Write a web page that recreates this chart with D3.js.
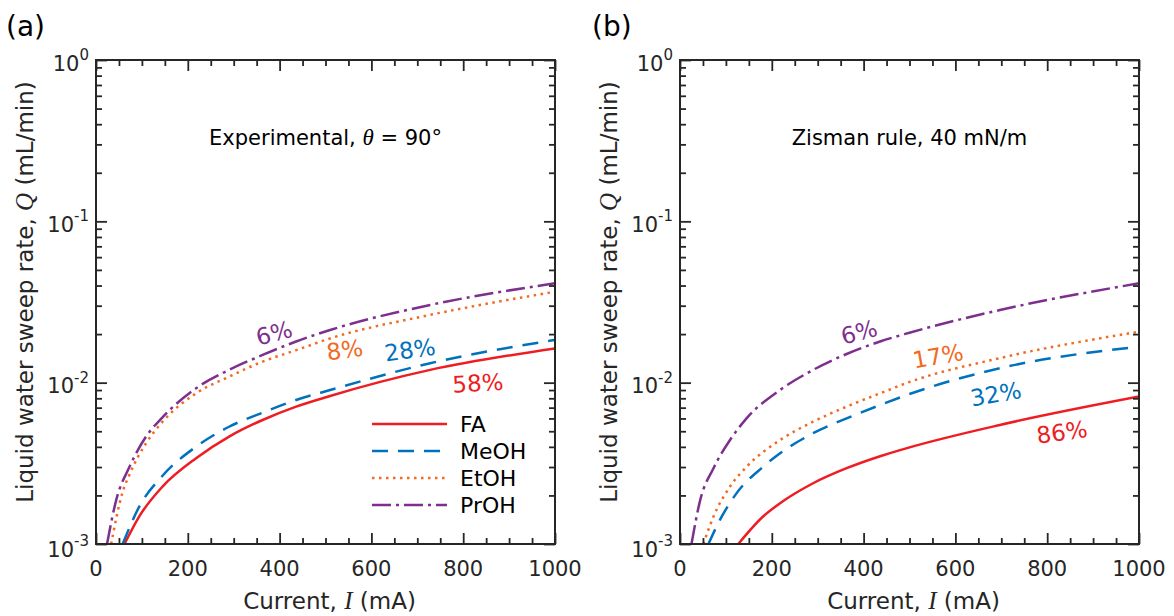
<!DOCTYPE html>
<html><head><meta charset="utf-8">
<script src="https://cdn.jsdelivr.net/npm/d3@7"></script>
<style>body{margin:0;background:#fff}</style>
</head><body>
<svg id="chart" width="1174" height="616"></svg>
<script>
// ---------- DATA ----------
const seriesNames = ["FA", "MeOH", "EtOH", "PrOH"];
const xTicks = [0, 200, 400, 600, 800, 1000];
const xMinorTicks = d3.range(0, 1001, 50);
const yExponents = [-3, -2, -1, 0];

// Panel (a): Experimental, theta = 90 deg
const aFA_I   = [62, 94, 145, 218, 290, 363, 436, 510, 728, 1000];
const aFA_Q   = [0.001, 0.00148, 0.00227, 0.0034, 0.00463, 0.00587, 0.0071, 0.00827, 0.012, 0.0163];
const aMeOH_I = [58, 94, 145, 218, 290, 363, 436, 510, 728, 1000];
const aMeOH_Q = [0.001, 0.0017, 0.00265, 0.00401, 0.00533, 0.00652, 0.00781, 0.009, 0.0132, 0.0184];
const aEtOH_I = [33, 58, 73, 109, 145, 218, 290, 363, 436, 510, 728, 1000];
const aEtOH_Q = [0.001, 0.0021, 0.0027, 0.00421, 0.00573, 0.00859, 0.0109, 0.0135, 0.0159, 0.0188, 0.0263, 0.0366];
const aPrOH_I = [24, 44, 73, 109, 145, 218, 290, 363, 436, 510, 728, 1000];
const aPrOH_Q = [0.001, 0.00187, 0.00301, 0.00463, 0.0061, 0.00923, 0.012, 0.01485, 0.018, 0.0212, 0.0303, 0.0413];
const aLabels = ["58%", "28%", "8%", "6%"];
const aLabel_I = [832, 684, 542, 388];
const aLabel_Q = [0.00995, 0.016, 0.016, 0.0203];

// Panel (b): Zisman rule, 40 mN/m
const bFA_I   = [127, 181, 218, 290, 363, 436, 500, 697, 1000];
const bFA_Q   = [0.001, 0.00148, 0.00179, 0.00238, 0.00295, 0.0035, 0.00397, 0.00547, 0.0082];
const bMeOH_I = [62, 87, 123, 181, 218, 290, 363, 436, 500, 697, 1000];
const bMeOH_Q = [0.001, 0.00141, 0.00206, 0.00301, 0.00365, 0.00486, 0.00601, 0.00727, 0.0085, 0.0123, 0.0167];
const bEtOH_I = [51, 73, 109, 145, 218, 290, 363, 436, 500, 697, 1000];
const bEtOH_Q = [0.001, 0.00148, 0.00227, 0.00301, 0.00441, 0.00573, 0.0071, 0.00859, 0.0101, 0.0142, 0.0207];
const bPrOH_I = [25, 44, 73, 109, 145, 218, 290, 363, 436, 500, 697, 1000];
const bPrOH_Q = [0.001, 0.00187, 0.00295, 0.00441, 0.00601, 0.00901, 0.012, 0.01506, 0.018, 0.0204, 0.0282, 0.0413];
const bLabels = ["86%", "32%", "17%", "6%"];
const bLabel_I = [832, 688, 562, 390];
const bLabel_Q = [0.00494, 0.00851, 0.01465, 0.0206];

// ---------- STYLE ----------
const TXT = "#262626";
const FONT = "'DejaVu Sans', Verdana, sans-serif";
const SERIF = "'Liberation Serif', 'Times New Roman', serif";
const styles = {
  FA:   {color: "#EE1D23", dash: null},
  MeOH: {color: "#0072BD", dash: "16,10"},
  EtOH: {color: "#F26A22", dash: "2.5,4.5"},
  PrOH: {color: "#7E2F8E", dash: "19,5,3,5"}
};

const svg = d3.select("#chart");
svg.append("rect").attr("width", 1174).attr("height", 616).attr("fill", "#fff");

function zipSeries(I, Q) { return I.map((v, i) => ({I: v, Q: Q[i]})); }

function drawPanel(cfg) {
  const top = 60, bottom = 544;
  const x = d3.scaleLinear().domain([0, 1000]).range([cfg.left, cfg.right]);
  const y = d3.scaleLog().domain([1e-3, 1]).range([bottom, top]);
  const g = svg.append("g");

  const clipId = "clip" + cfg.id;
  svg.append("clipPath").attr("id", clipId).append("rect")
    .attr("x", cfg.left).attr("y", top).attr("width", cfg.right - cfg.left).attr("height", bottom - top);

  // curves
  const line = d3.line().x(d => x(d.I)).y(d => y(d.Q)).curve(d3.curveMonotoneX);
  const cg = g.append("g").attr("clip-path", `url(#${clipId})`);
  seriesNames.forEach((name, k) => {
    const st = styles[name];
    cg.append("path").datum(cfg.series[k])
      .attr("d", line).attr("fill", "none")
      .attr("stroke", st.color).attr("stroke-width", 2.5)
      .attr("stroke-dasharray", st.dash);
  });

  // axes ticks (inward, mirrored)
  const yMinor = [];
  for (let e = -3; e < 0; e++) for (let m = 2; m <= 9; m++) yMinor.push(m * Math.pow(10, e));
  const yMajor = yExponents.map(e => Math.pow(10, e));

  const mk = (gen, tv, size, tr) => {
    const a = g.append("g").attr("transform", tr)
      .call(gen.tickValues(tv).tickSize(size).tickFormat(""));
    a.select(".domain").remove();
    a.selectAll(".tick line").attr("stroke", TXT).attr("stroke-width", 1.8);
  };
  mk(d3.axisBottom(x), xTicks, -11, `translate(0,${bottom})`);
  mk(d3.axisBottom(x), xMinorTicks.filter(v => v % 200 !== 0), -6, `translate(0,${bottom})`);
  mk(d3.axisTop(x), xTicks, -11, `translate(0,${top})`);
  mk(d3.axisTop(x), xMinorTicks.filter(v => v % 200 !== 0), -6, `translate(0,${top})`);
  mk(d3.axisLeft(y), yMajor, -11, `translate(${cfg.left},0)`);
  mk(d3.axisLeft(y), yMinor, -6, `translate(${cfg.left},0)`);
  mk(d3.axisRight(y), yMajor, -11, `translate(${cfg.right},0)`);
  mk(d3.axisRight(y), yMinor, -6, `translate(${cfg.right},0)`);

  // box
  g.append("rect").attr("x", cfg.left).attr("y", top)
    .attr("width", cfg.right - cfg.left).attr("height", bottom - top)
    .attr("fill", "none").attr("stroke", TXT).attr("stroke-width", 2);

  // x tick labels
  g.selectAll(".xl").data(xTicks).enter().append("text")
    .attr("x", d => x(d)).attr("y", 576)
    .attr("text-anchor", "middle").attr("font-family", FONT).attr("font-size", 21)
    .attr("fill", TXT).text(d => d);

  // y tick labels
  yExponents.forEach(e => {
    const yy = y(Math.pow(10, e)) + (e === -3 ? 13 : 10.5);
    const t = g.append("text").attr("x", cfg.left - 7).attr("y", yy)
      .attr("text-anchor", "end").attr("font-family", FONT).attr("fill", TXT);
    t.append("tspan").attr("font-size", 21).text("10");
    t.append("tspan").attr("font-size", 15).attr("dy", -10.6).text(e === 0 ? "0" : "-" + (-e));
  });

  // x title
  const xt = g.append("text").attr("x", (cfg.left + cfg.right) / 2 + 4).attr("y", 609)
    .attr("text-anchor", "middle").attr("font-family", FONT).attr("font-size", 23).attr("fill", TXT);
  xt.append("tspan").text("Current, ");
  xt.append("tspan").attr("font-family", SERIF).attr("font-style", "italic").attr("font-size", 25).text("I");
  xt.append("tspan").text(" (mA)");

  // y title
  const yt = g.append("text")
    .attr("transform", `translate(${cfg.left - 63},${(top + bottom) / 2 - 10}) rotate(-90)`)
    .attr("text-anchor", "middle").attr("font-family", FONT).attr("font-size", 23).attr("fill", TXT);
  yt.append("tspan").text("Liquid water sweep rate, ");
  yt.append("tspan").attr("font-family", SERIF).attr("font-style", "italic").attr("font-size", 25).text("Q");
  yt.append("tspan").text(" (mL/min)");

  // panel letter
  g.append("text").attr("x", cfg.letterX).attr("y", 36)
    .attr("font-family", FONT).attr("font-size", 28).attr("fill", "#000").text(cfg.letter);

  // annotation
  const an = g.append("text").attr("x", (cfg.left + cfg.right) / 2).attr("y", 145)
    .attr("text-anchor", "middle").attr("font-family", FONT).attr("font-size", 21).attr("fill", "#000");
  cfg.annot(an);

  // percentage labels
  cfg.labels.forEach((lab, k) => {
    const px = x(cfg.labelI[k]), py = y(cfg.labelQ[k]);
    g.append("text").attr("transform", `translate(${px},${py}) rotate(${cfg.rot[k]})`)
      .attr("text-anchor", "middle").attr("dy", "0.36em")
      .attr("font-family", FONT).attr("font-size", 23)
      .attr("fill", styles[seriesNames[k]].color).text(lab);
  });

  return {x, y, g};
}

const pa = drawPanel({
  id: "a", left: 96, right: 555, letter: "(a)", letterX: 6,
  series: [zipSeries(aFA_I, aFA_Q), zipSeries(aMeOH_I, aMeOH_Q), zipSeries(aEtOH_I, aEtOH_Q), zipSeries(aPrOH_I, aPrOH_Q)],
  labels: aLabels, labelI: aLabel_I, labelQ: aLabel_Q, rot: [-3, -8, -8, -15],
  annot: t => {
    t.append("tspan").text("Experimental, ");
    t.append("tspan").attr("font-family", SERIF).attr("font-style", "italic").attr("font-size", 23).text("θ");
    t.append("tspan").text(" = 90°");
  }
});
const pb = drawPanel({
  id: "b", left: 680, right: 1139, letter: "(b)", letterX: 592,
  series: [zipSeries(bFA_I, bFA_Q), zipSeries(bMeOH_I, bMeOH_Q), zipSeries(bEtOH_I, bEtOH_Q), zipSeries(bPrOH_I, bPrOH_Q)],
  labels: bLabels, labelI: bLabel_I, labelQ: bLabel_Q, rot: [-8, -10, -10, -15],
  annot: t => { t.text("Zisman rule, 40 mN/m"); }
});

// legend in panel (a)
const lg = pa.g.append("g");
seriesNames.forEach((name, k) => {
  const yy = 424 + k * 27;
  const st = styles[name];
  lg.append("line").attr("x1", 372).attr("x2", 447).attr("y1", yy).attr("y2", yy)
    .attr("stroke", st.color).attr("stroke-width", 2.5).attr("stroke-dasharray", st.dash);
  lg.append("text").attr("x", 460).attr("y", yy + 8)
    .attr("font-family", FONT).attr("font-size", 22).attr("fill", "#000").text(name);
});
</script>
</body></html>
